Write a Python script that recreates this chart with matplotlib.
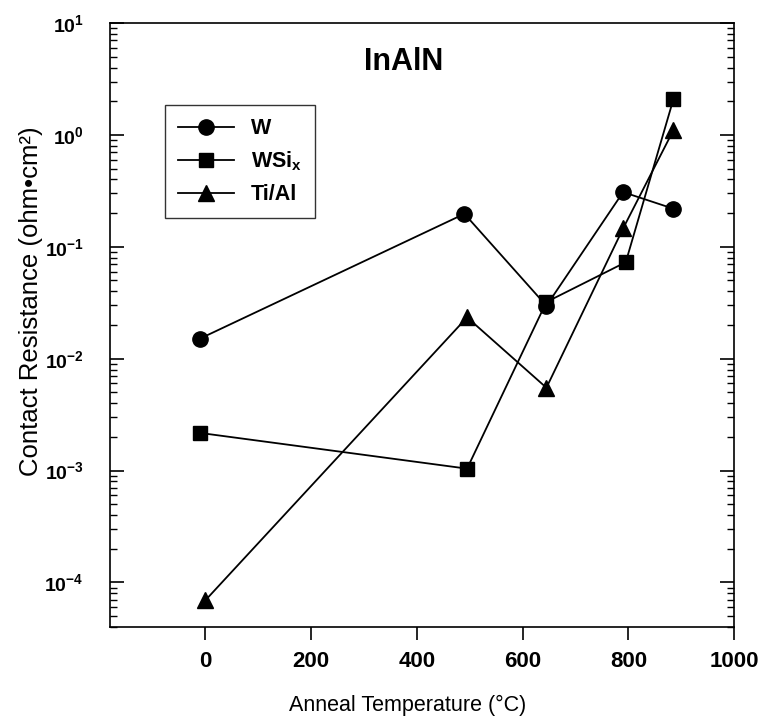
import numpy as np
import matplotlib
matplotlib.use('Agg')
import matplotlib.pyplot as plt
from matplotlib.ticker import FixedLocator, FixedFormatter, LogLocator, NullFormatter

plt.rcParams['font.family'] = ['Liberation Sans', 'DejaVu Sans']
plt.rcParams['mathtext.fontset'] = 'custom'
plt.rcParams['mathtext.rm'] = 'Liberation Sans'
plt.rcParams['mathtext.bf'] = 'Liberation Sans:bold'
plt.rcParams['mathtext.it'] = 'Liberation Sans:italic'

# Données (température de recuit en °C, résistance en ohm.cm2)
temp_w = [-10, 490, 645, 790, 885]
res_w = [0.0151, 0.197, 0.0297, 0.308, 0.219]

temp_wsi = [-10, 495, 645, 795, 885]
res_wsi = [0.00217, 0.00104, 0.0321, 0.0728, 2.08]

temp_tial = [0, 495, 645, 790, 885]
res_tial = [6.9e-5, 0.0234, 0.0055, 0.146, 1.1]

x_ticks = [0, 200, 400, 600, 800, 1000]
y_ticks = [1e-4, 1e-3, 1e-2, 1e-1, 1e0, 1e1]
y_tick_labels = [r'$\mathbf{10^{-4}}$', r'$\mathbf{10^{-3}}$', r'$\mathbf{10^{-2}}$',
                 r'$\mathbf{10^{-1}}$', r'$\mathbf{10^{0}}$', r'$\mathbf{10^{1}}$']

fig = plt.figure(figsize=(7.64, 7.19), dpi=100)
ax = fig.add_axes([0.144, 0.128, 0.817, 0.840])

style = dict(color='black', linewidth=1.3, markersize=11)
ax.plot(temp_w, res_w, marker='o', label='W', **style)
ax.plot(temp_wsi, res_wsi, marker='s', label=r'WSi$_\mathbf{x}$',
        **{**style, 'markersize': 10.5})
ax.plot(temp_tial, res_tial, marker='^', label='Ti/Al', **style)

ax.set_yscale('log')
ax.set_xlim(-180, 1000)
ax.set_ylim(4e-5, 1e1)

ax.xaxis.set_major_locator(FixedLocator(x_ticks))
ax.yaxis.set_major_locator(FixedLocator(y_ticks))
ax.yaxis.set_major_formatter(FixedFormatter(y_tick_labels))
ax.yaxis.set_minor_locator(LogLocator(base=10, subs=np.arange(2, 10), numticks=20))
ax.yaxis.set_minor_formatter(NullFormatter())

ax.tick_params(axis='x', which='major', direction='out', length=9, width=1.2,
               pad=8, labelsize=16, top=False)
ax.tick_params(axis='y', which='major', direction='in', length=10, width=1.2,
               pad=19, labelsize=14, left=True, right=True)
ax.tick_params(axis='y', which='minor', direction='in', length=5, width=1.0,
               left=True, right=True)
for lab in ax.get_xticklabels():
    lab.set_fontweight('bold')

for sp in ax.spines.values():
    sp.set_linewidth(1.2)

ax.set_xlabel('Anneal Temperature (°C)', fontsize=15.5)
ax.xaxis.set_label_coords(0.477, -0.112)
ax.set_ylabel('Contact Resistance (ohm•cm²)', fontsize=18.5)
ax.yaxis.set_label_coords(-0.108, 0.54)

ax.text(0.47, 0.935, 'InAlN', transform=ax.transAxes, ha='center', va='center',
        fontsize=22, fontweight='bold')

leg = ax.legend(loc='upper left', bbox_to_anchor=(0.088, 0.864), borderaxespad=0,
                frameon=True, fancybox=False, edgecolor='black', fontsize=15.5,
                handlelength=2.6, labelspacing=0.5, borderpad=0.6)
leg.get_frame().set_linewidth(1.0)
for t in leg.get_texts():
    t.set_fontweight('bold')

fig.savefig('out.png', dpi=100)
